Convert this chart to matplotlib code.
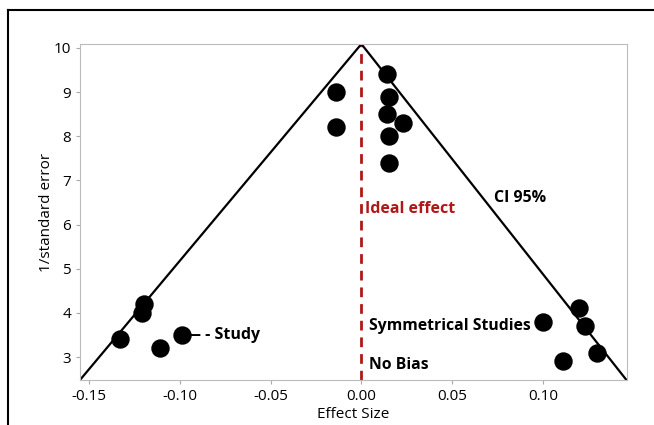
import matplotlib
matplotlib.use("Agg")
import matplotlib.pyplot as plt
from matplotlib.lines import Line2D

plt.rcParams['font.family'] = ['Open Sans', 'DejaVu Sans']

# --- study points ---
effect = [0.014, -0.014, 0.015, -0.014, 0.014, 0.023, 0.015, 0.015,
          -0.120, -0.121, -0.133, -0.111, -0.099,
          0.100, 0.120, 0.123, 0.130, 0.111]
inv_se = [9.4, 9.0, 8.9, 8.2, 8.5, 8.3, 8.0, 7.4,
          4.2, 4.0, 3.4, 3.2, 3.5,
          3.8, 4.1, 3.7, 3.1, 2.9]

# funnel (CI 95%) edges
funnel_x = [-0.155, 0.0, 0.146]
funnel_y = [2.48, 10.09, 2.48]

xticks = [-0.15, -0.10, -0.05, 0.00, 0.05, 0.10]
yticks = [3, 4, 5, 6, 7, 8, 9, 10]

fig = plt.figure(figsize=(6.54, 4.25), dpi=100)
ax = fig.add_axes([0.1223, 0.1059, 0.8364, 0.7906])

ax.plot(funnel_x, funnel_y, color='black', lw=1.6, zorder=2)
ax.axvline(0.0, color='#B01818', lw=2, ls=(0, (3.5, 2.5)), zorder=1)
ax.scatter(effect, inv_se, s=150, color='black', zorder=3)

ax.text(0.002, 6.35, 'Ideal effect', color='#B01818', fontsize=11.5,
        fontweight='bold', va='center')
ax.text(0.073, 6.6, 'CI 95%', color='black', fontsize=11.5,
        fontweight='bold', va='center')
ax.text(0.004, 3.7, 'Symmetrical Studies', color='black', fontsize=11.3,
        fontweight='bold', va='center')
ax.text(0.004, 2.82, 'No Bias', color='black', fontsize=11.3,
        fontweight='bold', va='center')
ax.text(-0.097, 3.5, '— - Study', color='black', fontsize=11.5,
        fontweight='bold', va='center')

ax.set_xlim(-0.155, 0.1463)
ax.set_ylim(2.48, 10.09)
ax.set_xticks(xticks)
ax.set_xticklabels([f'{t:.2f}' for t in xticks])
ax.set_yticks(yticks)
ax.tick_params(labelsize=11, color='#AAAAAA', length=3)
for s in ax.spines.values():
    s.set_color('#BBBBBB')

ax.set_xlabel('Effect Size', fontsize=11, labelpad=2)
ax.set_ylabel('1/standard error', fontsize=11, labelpad=0)

# outer frame of the original screenshot
fig.add_artist(Line2D([8/654, 1], [1 - 10/425, 1 - 10/425],
                      transform=fig.transFigure, color='black', lw=1.5))
fig.add_artist(Line2D([8/654, 8/654], [0, 1 - 10/425],
                      transform=fig.transFigure, color='black', lw=1.5))

fig.savefig('out.png', dpi=100)
